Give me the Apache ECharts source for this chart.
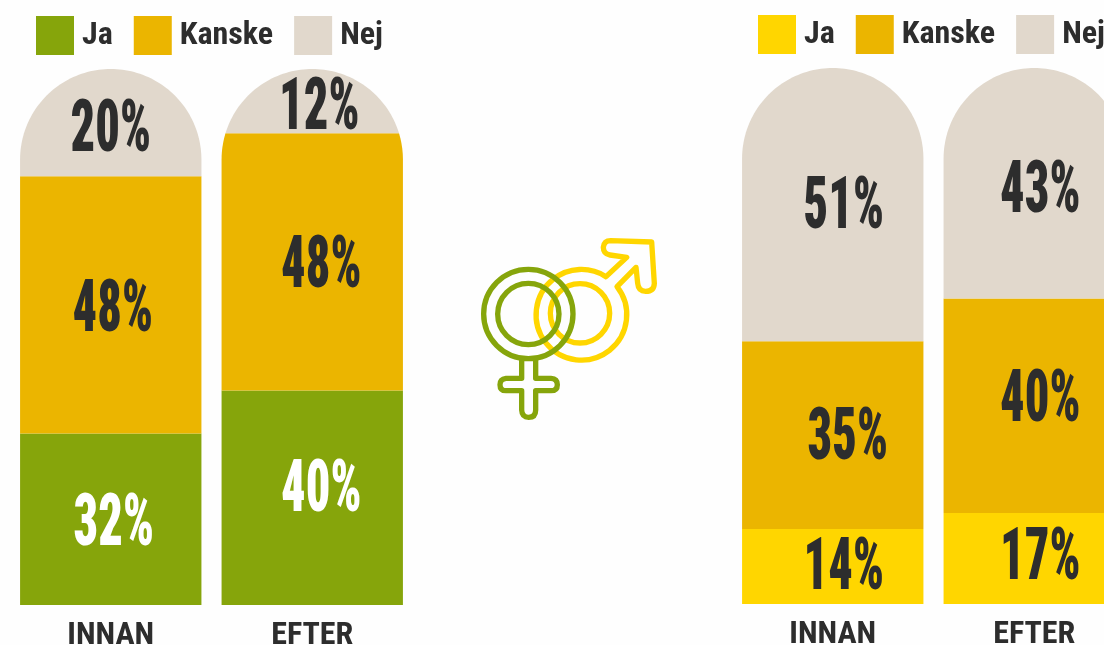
<!DOCTYPE html>
<html><head><meta charset="utf-8">
<style>html,body{margin:0;padding:0;background:#fefefe}#c{width:1104px;height:645px}</style>
<script src="https://cdn.jsdelivr.net/npm/echarts@6/dist/echarts.min.js"></script>
</head><body><div id="c"></div>
<script>
const periods = ['INNAN', 'EFTER'];
const answers = ['Ja', 'Kanske', 'Nej'];
const leftJa = [32, 40];
const leftKanske = [48, 48];
const leftNej = [20, 12];
const rightJa = [14, 17];
const rightKanske = [35, 40];
const rightNej = [51, 43];

const leftColors = ['#86A50B', '#EBB500', '#E1D8CC'];
const rightColors = ['#FFD600', '#EBB500', '#E1D8CC'];
const INK = '#2D2D2D';
const TXT = 'Roboto';
// hand placement of the percentage labels relative to segment centre [dx, dy], per period, per answer
const leftNudge = [[[3, 1], [2, 1], [0, 3.5]], [[9, -12], [9, 0], [7, 3]]];
const rightNudge = [[[11, -2.5], [15, -1], [11, -1.5]], [[6, -4.5], [6, -10], [6, 3.5]]];
const LABEL_BASE = 7;

function renderSeg(params, api) {
  const cat = api.value(0), lo = api.value(1), hi = api.value(2);
  const cx = api.coord([cat, 0])[0];
  const R = api.size([1, 0])[0] * 0.45;
  const yTop = api.coord([cat, 100])[1];
  const yc = yTop + R;
  const hw = y => y >= yc ? R : Math.sqrt(Math.max(0, R * R - (yc - y) * (yc - y)));
  const yB = api.coord([cat, lo])[1], yT = api.coord([cat, hi])[1];
  const prof = [[hw(yB), yB]];
  if (yB > yc && yT < yc) prof.push([R, yc]);
  for (let i = 0; i <= 48 && yT < yc; i++) {
    const t = i / 48 * Math.PI / 2, y = yc - R * Math.sin(t);
    if (y < yB && y > yT) prof.push([R * Math.cos(t), y]);
  }
  prof.push([hw(yT), yT]);
  const pts = prof.map(p => [cx - p[0], p[1]]).concat(prof.slice().reverse().map(p => [cx + p[0], p[1]]));
  const v = hi - lo;
  const nudge = api.value(3) === 0 ? leftNudge : rightNudge;
  const n = nudge[cat][api.value(4)];
  const isWhite = api.value(3) === 0 && api.value(4) === 0;
  return { type: 'group', children: [
    { type: 'polygon', shape: { points: pts }, style: { fill: api.visual('color') } },
    { type: 'text', x: cx + n[0], y: (yB + yT) / 2 + n[1] + LABEL_BASE, scaleX: 0.67, z2: 5,
      style: { text: v + '%', textAlign: 'center', textVerticalAlign: 'middle',
        font: 'condensed 900 72px "' + TXT + '"', fill: isWhite ? '#FFFFFF' : INK } }
  ]};
}

function buildSeries(side, rows, colors, axisIdx) {
  const base = periods.map(() => 0);
  return rows.map((vals, a) => {
    const data = vals.map((v, c) => { const d = [c, base[c], base[c] + v, side, a]; base[c] += v; return d; });
    return { type: 'custom', name: answers[a], xAxisIndex: axisIdx, yAxisIndex: axisIdx, clip: false,
      renderItem: renderSeg, encode: { x: 0, y: [1, 2] }, itemStyle: { color: colors[a] }, data };
  });
}
function legend(left, top, colors) {
  return { left, top, width: 700, orient: 'horizontal', icon: 'rect', itemWidth: 38, itemHeight: 39, itemGap: 21,
    selectedMode: false, padding: 0,
    textStyle: { fontFamily: TXT, fontStyle: 'condensed', fontWeight: 'bold', fontSize: 32, color: INK, padding: [0, 0, 0, 3] },
    data: answers.map((n, i) => ({ name: n, itemStyle: { color: colors[i] } })) };
}
const catAxis = gi => ({ type: 'category', gridIndex: gi, data: periods,
  axisLine: { show: false }, axisTick: { show: false }, splitLine: { show: false },
  axisLabel: { fontFamily: TXT, fontStyle: 'condensed', fontWeight: 'bold', fontSize: 32, color: INK, margin: 15 } });
const valAxis = gi => ({ type: 'value', gridIndex: gi, min: 0, max: 100, show: false, splitLine: { show: false } });

const stroke = (c) => ({ fill: 'none', stroke: c, lineWidth: 16, lineJoin: 'round' });
const iconSeries = {
  type: 'custom', coordinateSystem: 'none', silent: true, clip: false, z: 3, data: [[0]],
  renderItem: () => ({
    type: 'group', x: 470, y: 230, scaleX: 1 / 3, scaleY: 1 / 3,
    children: [
      { type: 'path', shape: { pathData: 'M408 140 L470 82 L420 75 Q400 72 400 52 Q402 32 422 32 L545 36 L553 160 Q552 184 527 184 Q505 184 503 160 L498 112 L441 170 A136 136 0 1 1 408 140 Z' }, style: stroke('#FFD600') },
      { type: 'circle', shape: { cx: 330, cy: 250, r: 89 }, style: stroke('#FFD600') },
      { type: 'circle', shape: { cx: 175, cy: 252, r: 134 }, style: stroke('#86A50B') },
      { type: 'circle', shape: { cx: 175, cy: 252, r: 92 }, style: stroke('#86A50B') },
      { type: 'path', shape: { pathData: 'M155 380 L155 445 L108 445 Q90 447 90 464 Q90 482 108 482 L155 482 L155 540 Q156 562 176 562 Q197 562 197 540 L197 482 L243 482 Q262 482 262 464 Q262 446 243 445 L197 445 L197 380' }, style: stroke('#86A50B') }
    ]
  })
};
const chart = echarts.init(document.getElementById('c'), null, { renderer: 'canvas' });
chart.setOption({
  animation: false,
  backgroundColor: '#FEFEFE',
  grid: [
    { left: 10, top: 69, width: 403, height: 536, outerBoundsMode: 'none' },
    { left: 732, top: 68, width: 403, height: 536, outerBoundsMode: 'none' }
  ],
  legend: [legend(36, 16, leftColors), legend(758, 15, rightColors)],
  xAxis: [catAxis(0), catAxis(1)],
  yAxis: [valAxis(0), valAxis(1)],
  series: buildSeries(0, [leftJa, leftKanske, leftNej], leftColors, 0)
    .concat(buildSeries(1, [rightJa, rightKanske, rightNej], rightColors, 1))
    .concat([iconSeries])
});
</script></body></html>
